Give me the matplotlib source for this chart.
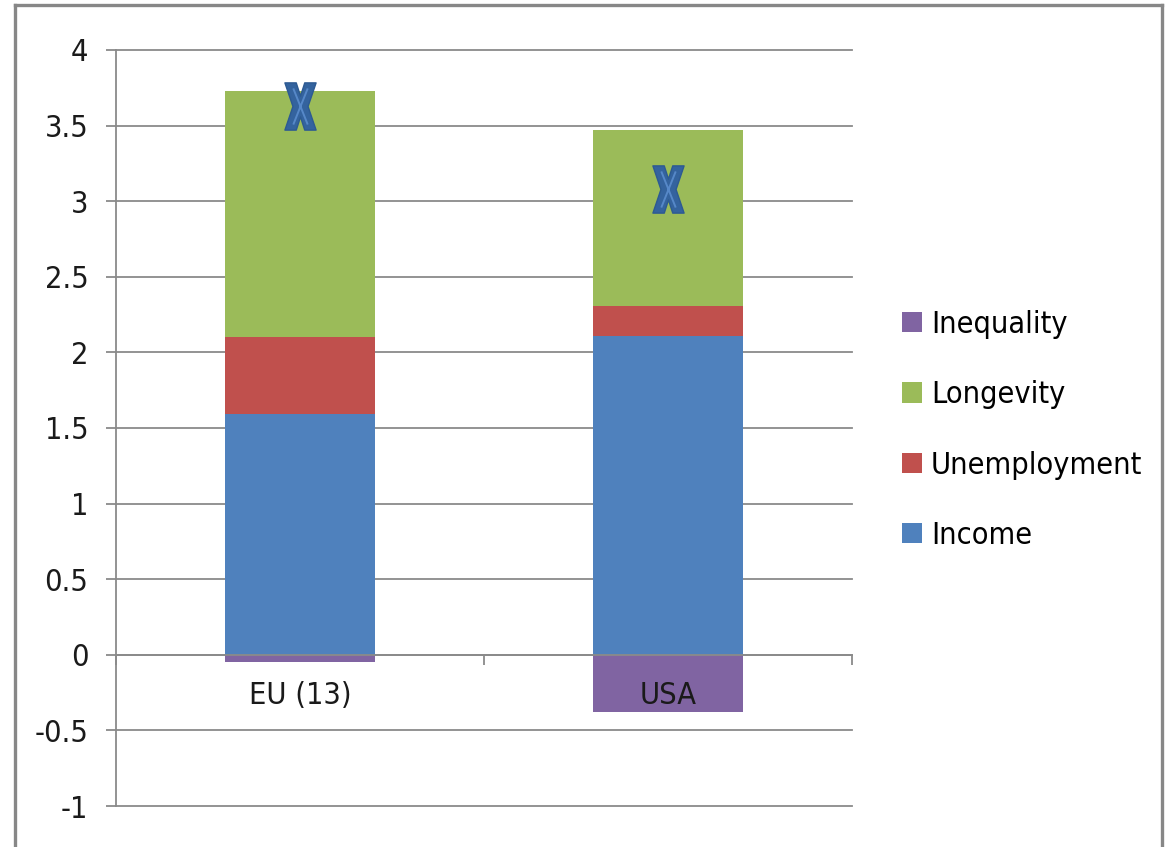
import numpy as np
import matplotlib
matplotlib.use('Agg')
import matplotlib.pyplot as plt
from matplotlib.path import Path
from matplotlib.lines import Line2D

plt.rcParams['font.family'] = ['DejaVu Sans']
plt.rcParams['font.stretch'] = 'condensed'

# Contributions to the change, stacked per region
regions = ['EU (13)', 'USA']
income = [1.59, 2.11]
unemployment = [0.51, 0.20]
longevity = [1.63, 1.16]
inequality = [-0.05, -0.38]
total = [3.63, 3.08]

yticks = [-1, -0.5, 0, 0.5, 1, 1.5, 2, 2.5, 3, 3.5, 4]
yticklabels = ['-1', '-0.5', '0', '0.5', '1', '1.5', '2', '2.5', '3', '3.5', '4']

c_income = '#4F81BD'
c_unemp = '#C0504D'
c_long = '#9BBB59'
c_ineq = '#8064A2'
gray = '#8a8a8a'
fs = 22

fig = plt.figure(figsize=(11.65, 8.47), dpi=100)
ax = fig.add_axes([0.0996, 0.0484, 0.6317, 0.8926])
ax.set_axisbelow(False)

x = np.arange(len(regions))
w = 0.41
income = np.array(income)
unemployment = np.array(unemployment)
longevity = np.array(longevity)

b_inc = ax.bar(x, income, w, color=c_income, zorder=1)
b_une = ax.bar(x, unemployment, w, bottom=income, color=c_unemp, zorder=1)
b_lon = ax.bar(x, longevity, w, bottom=income + unemployment, color=c_long, zorder=1)
b_ineq = ax.bar(x, inequality, w, color=c_ineq, zorder=1)

# thick "x" marker for the net total
hw, a, c, d = 0.33, 0.24, 0.22, 0.16
outer = Path([(-hw, 0.5), (-hw + a, 0.5), (0, c), (hw - a, 0.5), (hw, 0.5), (d, 0),
              (hw, -0.5), (hw - a, -0.5), (0, -c), (-hw + a, -0.5), (-hw, -0.5), (-d, 0),
              (-hw, 0.5)], closed=True)
s = 0.5
inner = Path([(-0.2, s), (0.2, -s), (0.2, s), (-0.2, -s)],
             [Path.MOVETO, Path.LINETO, Path.MOVETO, Path.LINETO])
ax.plot(x, total, linestyle='none', marker=outer, markersize=34,
        markerfacecolor='#34639e', markeredgecolor='#2d5a92', markeredgewidth=1, zorder=4)
ax.plot(x, total, linestyle='none', marker=inner, markersize=26,
        markeredgecolor='#5688c8', markeredgewidth=1.4, zorder=5)

ax.set_xlim(-0.5, 1.5)
ax.set_ylim(-1, 4)

# horizontal gridlines behind the bars
for yv in yticks:
    ax.axhline(yv, color=gray, linewidth=1.3, zorder=0.5, clip_on=False)

ax.set_yticks(yticks)
ax.set_yticklabels(yticklabels)
ax.tick_params(axis='y', direction='out', length=7, width=1.3, color=gray,
               pad=13, labelsize=fs, labelcolor='#1a1a1a')

ax.set_xticks([-0.5, 0.5, 1.5])
ax.set_xticklabels(['', '', ''])
ax.set_xticks(x, minor=True)
ax.set_xticklabels(regions, minor=True)
ax.tick_params(axis='x', which='major', direction='out', length=7, width=1.3, color=gray)
ax.tick_params(axis='x', which='minor', length=0, pad=19, labelsize=fs, labelcolor='#1a1a1a')

for sp in ['top', 'right']:
    ax.spines[sp].set_visible(False)
ax.spines['left'].set_color(gray)
ax.spines['left'].set_linewidth(1.3)
ax.spines['bottom'].set_position(('data', 0))
ax.spines['bottom'].set_color(gray)
ax.spines['bottom'].set_linewidth(1.3)
ax.spines['bottom'].set_zorder(3)

leg = fig.legend([b_ineq, b_lon, b_une, b_inc],
                 ['Inequality', 'Longevity', 'Unemployment', 'Income'],
                 loc='upper left', bbox_to_anchor=(0.761, 0.652), frameon=False,
                 fontsize=fs, handlelength=0.65, handleheight=0.65,
                 handletextpad=0.3, labelspacing=1.35, borderpad=0)

# outer chart border
for xs, ys in [([0.0129, 0.0129], [0.0, 0.994]),
               ([0.0129, 0.9974], [0.994, 0.994]),
               ([0.9974, 0.9974], [0.994, 0.0])]:
    fig.add_artist(Line2D(xs, ys, color='#878787', linewidth=2.4, transform=fig.transFigure))

fig.savefig('out.png', dpi=100)
